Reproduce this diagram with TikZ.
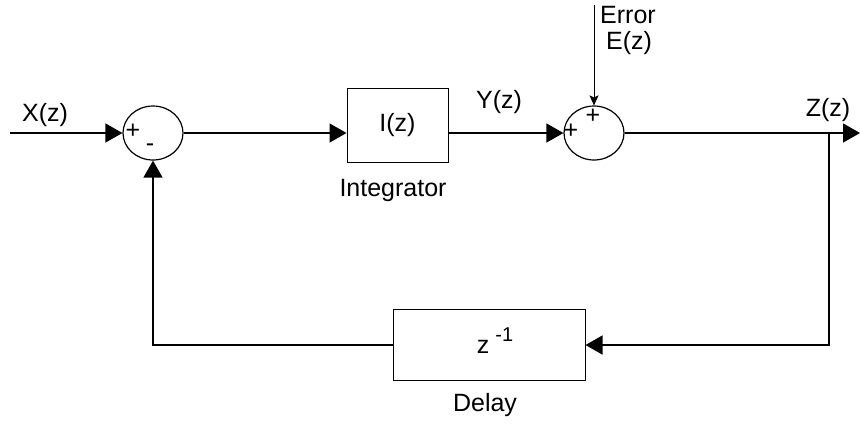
\documentclass[tikz,border=0pt]{standalone}
\usepackage{fontspec}
\setmainfont{Liberation Sans}
\usetikzlibrary{arrows.meta,shapes.geometric}
\tikzset{
	sumnode/.style={draw,ellipse,minimum width=30pt,minimum height=27pt,inner sep=0pt,line width=0.6pt},
	blocknode/.style={draw,rectangle,inner sep=0pt,line width=0.5pt},
}
\begin{document}
\begin{tikzpicture}[x=0.5pt,y=-0.5pt,>={Triangle[length=8.5pt,width=9.5pt]},line width=0.7pt,font=\fontsize{12.5}{15}\selectfont]
	\useasboundingbox (0,0) rectangle (860,425);
	\node[sumnode] (sum1) at (153,133) {};
	\node[sumnode] (sum2) at (594,133) {};
	\node[blocknode,minimum width=50.5pt,minimum height=37pt] (integ) at (397.5,125) {I(z)};
	\node[blocknode,minimum width=96pt,minimum height=35.5pt] (delay) at (489,345) {};
	\coordinate (xin) at (10,133);
	\coordinate (zout) at (860,133);
	\coordinate (branch) at (829,133);
	\coordinate (etop) at (594,5);
	\draw[->] (xin) -- (sum1.west);
	\draw[->] (sum1.east) -- (sum1.east -| integ.west);
	\draw[->] (sum1.east -| integ.east) -- (sum2.west);
	\draw[-{Stealth[length=5pt,width=4.5pt,inset=1pt]},line width=0.5pt] (etop) -- (sum2.north);
	\draw[->] (sum2.east) -- (zout);
	\draw[->] (branch) |- (delay.east);
	\draw[->] (delay.west) -| (sum1.south);
	\node (zinv) at (495,341) {z\hspace{3pt}\raisebox{6pt}{\fontsize{10}{10}\selectfont -1}};
	\foreach \x/\y/\nm/\txt in {45/115/xlbl/X(z),499/102/ylbl/Y(z),828/110/zlbl/Z(z),628/15/errlbl/Error,629/43/elbl/E(z),393/190/intlbl/Integrator,485/405/dellbl/Delay}
	\node (\nm) at (\x,\y) {\txt};
	\foreach \x/\y/\nm/\txt in {133/131/plusa/+,150/148/minusa/-,571/131/plusb/+,593/116/plusc/+}
	\node[inner sep=0pt] (\nm) at (\x,\y) {\txt};
\end{tikzpicture}
\end{document}
